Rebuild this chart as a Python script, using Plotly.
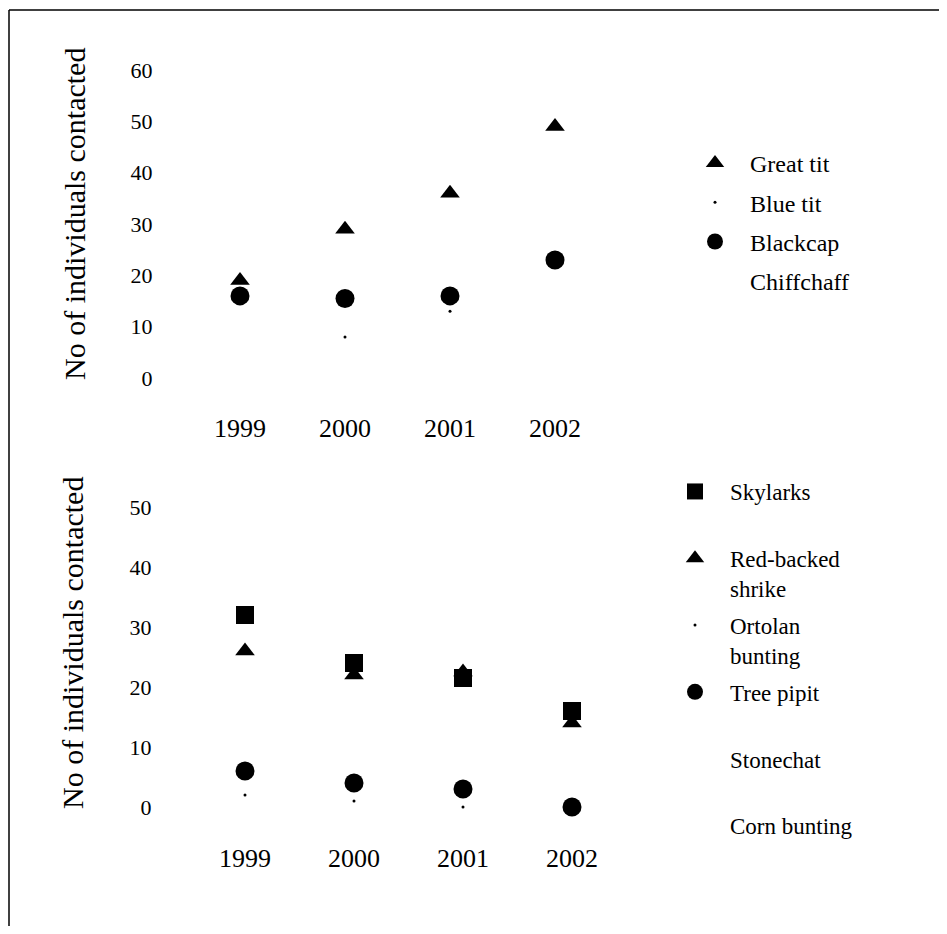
import plotly.graph_objects as go

# ---------------- data ----------------
years = ["1999", "2000", "2001", "2002"]

# top panel
great_tit = [19, 29, 36, 49]
blue_tit = [16, 8, 13, 23]
blackcap = [16, 15.5, 16, 23]
chiffchaff = [None, None, None, None]
top_ticks = [0, 10, 20, 30, 40, 50, 60]

# bottom panel
skylarks = [32, 24, 21.5, 16]
red_backed_shrike = [26, 22, 22.5, 14]
ortolan_bunting = [2, 1, 0, 0]
tree_pipit = [6, 4, 3, 0]
stonechat = [None, None, None, None]
corn_bunting = [None, None, None, None]
bottom_ticks = [0, 10, 20, 30, 40, 50]

y_title = "No of individuals contacted"

# ---------------- layout helpers ----------------
# the page body has an 8px margin, so the figure starts at (8, 8)
OFF = 8
W, H = 947 - 2 * OFF, 934 - 2 * OFF
FONT = "Liberation Serif"


def px(x):
    return (x - OFF) / W


def py(y):
    return 1 - (y - OFF) / H


fig = go.Figure()


def add(x, y, name, symbol, size, xa, ya, legend, rank, color="black"):
    fig.add_trace(go.Scatter(
        x=x, y=y, name=name, mode="markers",
        marker=dict(symbol=symbol, size=size, color=color, line=dict(width=0)),
        xaxis=xa, yaxis=ya, legend=legend, legendrank=rank,
        legendgroup=name, showlegend=True,
    ))


CLEAR = "rgba(0,0,0,0)"

# top panel traces
add(years, great_tit, "Great tit", "triangle-up", 17, "x", "y", "legend", 1)
add(years, blue_tit, "Blue tit", "circle", 3, "x", "y", "legend", 2)
add(years, blackcap, "Blackcap", "circle", 19, "x", "y", "legend", 3)
add(years, chiffchaff, "Chiffchaff", "circle", 1, "x", "y", "legend", 4, color=CLEAR)

# bottom panel traces (drawing order: squares last)
add(years, tree_pipit, "Tree pipit<br> ", "circle", 19, "x2", "y2", "legend2", 4)
add(years, ortolan_bunting, "Ortolan<br>bunting", "circle", 3, "x2", "y2", "legend2", 3)
add(years, red_backed_shrike, "Red-backed<br>shrike", "triangle-up", 17, "x2", "y2", "legend2", 2)
add(years, skylarks, "Skylarks<br> ", "square", 18, "x2", "y2", "legend2", 1)
add(years, stonechat, "Stonechat<br> ", "circle", 1, "x2", "y2", "legend2", 5, color=CLEAR)
add(years, corn_bunting, "Corn bunting<br> ", "circle", 1, "x2", "y2", "legend2", 6, color=CLEAR)

axis_common = dict(showgrid=False, zeroline=False, showline=False, ticks="",
                   color="black")

fig.update_layout(
    width=W, height=H,
    margin=dict(l=0, r=0, t=0, b=0),
    paper_bgcolor="white", plot_bgcolor="white",
    font=dict(family=FONT, color="black"),
    xaxis=dict(domain=[px(187.5), px(607.5)], range=[-0.5, 3.5], type="category",
               anchor="y", tickfont=dict(size=26), ticklabelstandoff=6, **axis_common),
    yaxis=dict(domain=[py(403.7), py(44.3)], range=[-5, 65], anchor="x",
               tickvals=top_ticks, tickfont=dict(size=22), ticklabelstandoff=34,
               **axis_common),
    xaxis2=dict(domain=[px(190.5), px(626.5)], range=[-0.5, 3.5], type="category",
                anchor="y2", tickfont=dict(size=26), ticklabelstandoff=15, **axis_common),
    yaxis2=dict(domain=[py(825), py(477)], range=[-3, 55], anchor="x2",
                tickvals=bottom_ticks, tickfont=dict(size=22), ticklabelstandoff=38,
                **axis_common),
    legend=dict(x=px(680), y=py(141), xanchor="left", yanchor="top",
                font=dict(size=24, family=FONT), itemwidth=60, tracegroupgap=5,
                bgcolor="rgba(0,0,0,0)", itemsizing="trace"),
    legend2=dict(x=px(660), y=py(470), xanchor="left", yanchor="top",
                 font=dict(size=23, family=FONT), itemwidth=60, tracegroupgap=4,
                 valign="top", bgcolor="rgba(0,0,0,0)", itemsizing="trace"),
    annotations=[
        dict(text=y_title, x=px(74), y=py(214), xref="paper", yref="paper",
             xanchor="center", yanchor="middle",
             textangle=-90, showarrow=False, font=dict(size=30, family=FONT)),
        dict(text=y_title, x=px(72), y=py(643), xref="paper", yref="paper",
             xanchor="center", yanchor="middle",
             textangle=-90, showarrow=False, font=dict(size=30, family=FONT)),
    ],
    shapes=[
        dict(type="line", xref="paper", yref="paper", x0=px(9), x1=px(9),
             y0=py(10), y1=0, line=dict(color="black", width=1.5)),
        dict(type="line", xref="paper", yref="paper", x0=px(9), x1=1,
             y0=py(10), y1=py(10), line=dict(color="black", width=1.5)),
    ],
)

fig.write_html("out.html")
